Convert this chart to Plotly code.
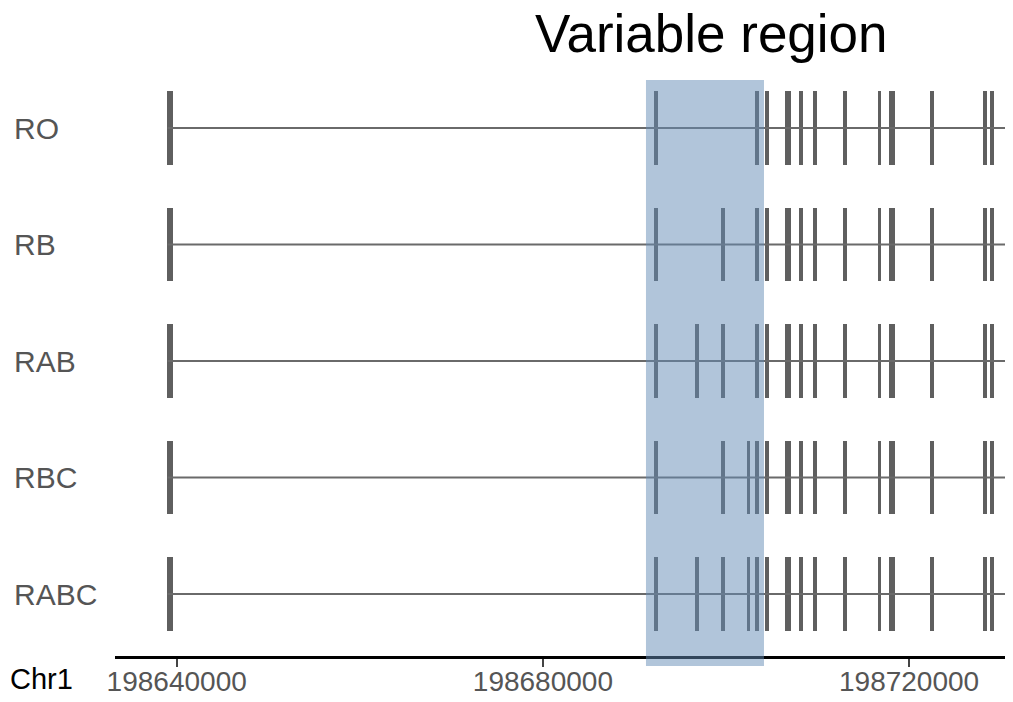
import plotly.graph_objects as go

# ---- data ----
isoforms = ["RO", "RB", "RAB", "RBC", "RABC"]
chrom_label = "Chr1"
title_text = "Variable region"
tick_values = [198640000, 198680000, 198720000]
tick_labels = ["198640000", "198680000", "198720000"]
gene_start = 198639000
gene_end = 198731500
variable_region = [198691260, 198704150]

# exons shared by all isoforms (start, length in bp)
shared_exon_starts = [198638950, 198692150, 198703150, 198704250, 198706480, 198707990,
                      198709520, 198712800, 198716550, 198717840, 198722270, 198728090, 198728890]
shared_exon_lengths = [620, 420, 420, 400, 650, 420, 420, 420, 420, 650, 420, 400, 400]

# variable exons per isoform (start, length in bp)
var_exon_starts = {
    "RO": [],
    "RB": [198699440],
    "RAB": [198696600, 198699440],
    "RBC": [198699440, 198702240],
    "RABC": [198696600, 198699440, 198702240],
}
var_exon_lengths = {
    "RO": [],
    "RB": [420],
    "RAB": [420, 420],
    "RBC": [420, 420],
    "RABC": [420, 420, 420],
}

# ---- figure ----
EXON_COLOR = "#5f5f5f"
fig = go.Figure()

for i, iso in enumerate(isoforms):
    fig.add_trace(go.Scatter(
        x=[gene_start, gene_end], y=[i, i], mode="lines",
        line=dict(color="#6a6a6a", width=2), hoverinfo="skip", showlegend=False))

for i, iso in enumerate(isoforms):
    starts = shared_exon_starts + var_exon_starts[iso]
    lengths = shared_exon_lengths + var_exon_lengths[iso]
    fig.add_trace(go.Bar(
        orientation="h", y=[i] * len(starts), x=lengths, base=starts,
        width=0.63, marker=dict(color=EXON_COLOR, line=dict(width=0)),
        showlegend=False, name=iso))

fig.add_shape(type="rect", xref="x", yref="paper",
              x0=variable_region[0], x1=variable_region[1], y0=-0.0174, y1=1.0,
              fillcolor="rgb(100,140,182)", opacity=0.5, line=dict(width=0), layer="above")

for i, iso in enumerate(isoforms):
    fig.add_annotation(text=iso, xref="paper", yref="y", x=-0.1147, y=i,
                       xanchor="left", yanchor="middle", showarrow=False,
                       font=dict(family="Liberation Sans, Arial", size=30, color="#555555"))

fig.add_annotation(text=chrom_label, xref="paper", yref="paper", x=-0.1192, y=-0.040,
                   xanchor="left", yanchor="middle", showarrow=False,
                   font=dict(family="Liberation Sans, Arial", size=29, color="#000000"))

fig.add_annotation(text=title_text, xref="paper", yref="paper", x=0.6648, y=1.0805,
                   xanchor="center", yanchor="middle", showarrow=False,
                   font=dict(family="Liberation Sans, Arial", size=53, color="#000000"))

fig.update_layout(
    template="none",
    width=1005, height=694,
    margin=dict(l=107, r=0, t=72, b=46),
    paper_bgcolor="white", plot_bgcolor="white",
    barmode="overlay", bargap=0,
    xaxis=dict(range=[198633260, 198731350], tickvals=tick_values, ticktext=tick_labels,
               automargin=False,
               showgrid=False, zeroline=False, showline=True, linecolor="black", linewidth=2.5,
               ticks="outside", ticklen=8, tickwidth=2, tickcolor="#444444",
               ticklabelstandoff=-9,
               tickfont=dict(family="Liberation Sans, Arial", size=28, color="#555555")),
    yaxis=dict(range=[4.532, -0.412], automargin=False, showgrid=False, zeroline=False,
               showline=False, showticklabels=False, ticks=""),
)

fig.write_html("out.html")
